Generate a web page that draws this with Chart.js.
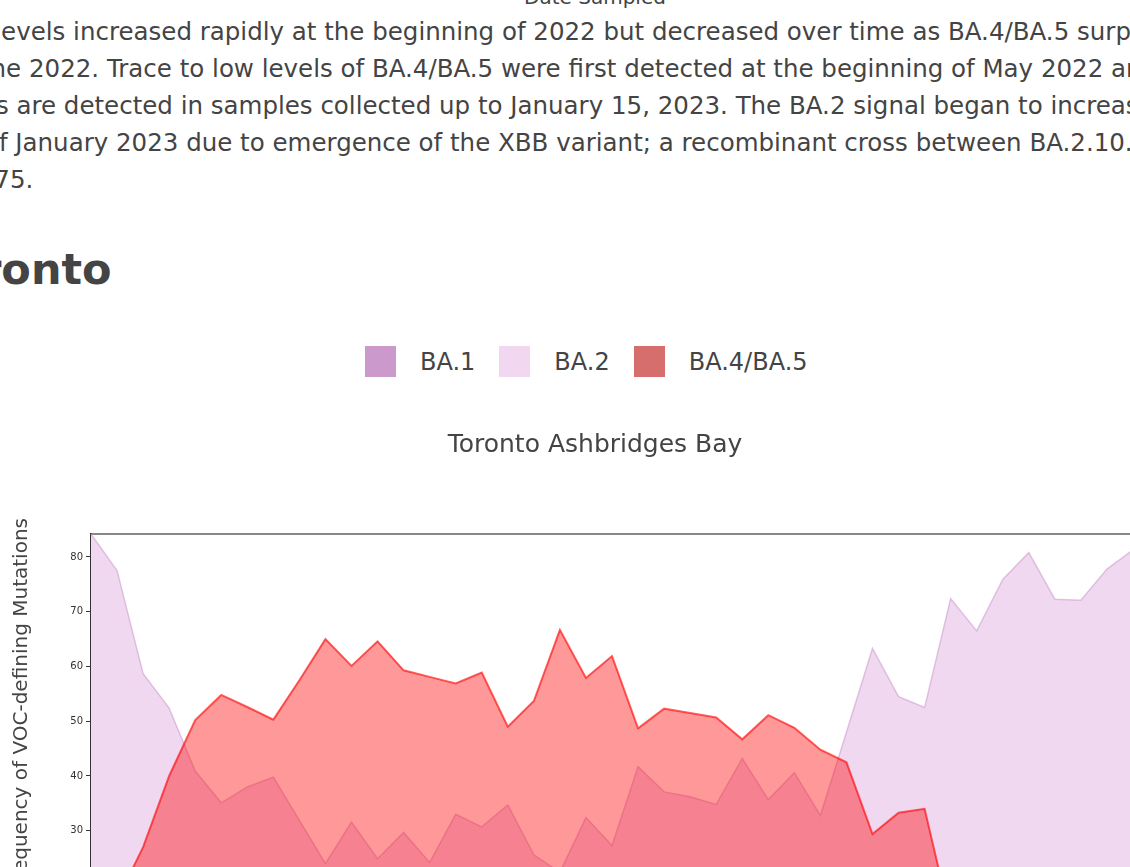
<!DOCTYPE html>
<html>
<head>
<meta charset="utf-8">
<title>Toronto Ashbridges Bay</title>
<script src="https://cdn.jsdelivr.net/npm/chart.js@4.4.0/dist/chart.umd.min.js"></script>
<style>
  html, body {
    margin: 0;
    padding: 0;
    width: 1130px;
    height: 867px;
    overflow: hidden;
    background: #fff;
  }
  body {
    font-family: "DejaVu Sans", sans-serif;
    color: #444;
  }
  /* the page is scrolled a bit to the right, so everything sits 70px left */
  #page {
    position: absolute;
    left: -70px;
    top: 0;
    width: 1330px;
    height: 1100px;
  }
  .prev-axis-title {
    position: absolute;
    left: 465px;
    top: -14px;
    width: 400px;
    text-align: center;
    font-size: 20px;
    line-height: 23px;
    white-space: nowrap;
  }
  .summary {
    position: absolute;
    left: 0;
    top: 12.5px;
    margin: 0;
    font-size: 24.5px;
    line-height: 37px;
    white-space: nowrap;
  }
  h2 {
    position: absolute;
    left: -3px;
    top: 244px;
    margin: 0;
    font-size: 43px;
    line-height: 50px;
    font-weight: bold;
  }
  .legend {
    position: absolute;
    left: 435px;
    top: 346px;
    display: flex;
    align-items: center;
    font-size: 24px;
    white-space: nowrap;
  }
  .legend .box {
    width: 31px;
    height: 31px;
    margin-right: 24px;
  }
  .legend .name {
    margin-right: 24px;
  }
  .y-title {
    position: absolute;
    left: 79px;
    top: 1018px;
    width: 500px;
    text-align: right;
    font-size: 20px;
    line-height: 23px;
    white-space: nowrap;
    transform: rotate(-90deg);
    transform-origin: 0 0;
  }
  #vocChart {
    position: absolute;
    left: 0;
    top: 410px;
  }
</style>
</head>
<body>
<div id="page">
  <div class="prev-axis-title">Date Sampled</div>
  <p class="summary">
    BA.2 levels increased rapidly at the beginning of 2022 but decreased over time as BA.4/BA.5 surpassed BA.2<br>
    by June 2022. Trace to low levels of BA.4/BA.5 were first detected at the beginning of May 2022 and<br>
    copies are detected in samples collected up to January 15, 2023. The BA.2 signal began to increase at the<br>
    end of January 2023 due to emergence of the XBB variant; a recombinant cross between BA.2.10.1 and<br>
    BA.2.75.
  </p>
  <h2>Toronto</h2>
  <div class="legend" id="legend"></div>
  <canvas id="vocChart" width="1330" height="645"></canvas>
  <div class="y-title">Frequency of VOC-defining Mutations</div>
</div>

<script>
// weekly sample dates
const dates = [
  "2022-05-02", "2022-05-09", "2022-05-16", "2022-05-23", "2022-05-30",
  "2022-06-06", "2022-06-13", "2022-06-20", "2022-06-27", "2022-07-04",
  "2022-07-11", "2022-07-18", "2022-07-25", "2022-08-01", "2022-08-08",
  "2022-08-15", "2022-08-22", "2022-08-29", "2022-09-05", "2022-09-12",
  "2022-09-19", "2022-09-26", "2022-10-03", "2022-10-10", "2022-10-17",
  "2022-10-24", "2022-10-31", "2022-11-07", "2022-11-14", "2022-11-21",
  "2022-11-28", "2022-12-05", "2022-12-12", "2022-12-19", "2022-12-26",
  "2023-01-02", "2023-01-09", "2023-01-16", "2023-01-23", "2023-01-30",
  "2023-02-06",
];

const ba1 = [
  9.3, 5.2, 3.1, 2.4, 1.8, 1.2, 0.9, 0.6, 0.5, 0.4,
  0.3, 0.3, 0.2, 0.2, 0.2, 0.1, 0.1, 0.1, 0.1, 0.1,
  0.1, 0.1, 0.1, 0, 0, 0, 0, 0, 0, 0,
  0, 0, 0, 0, 0, 0, 0, 0, 0, 0,
  0,
];

const ba2 = [
  84.2, 77.5, 58.7, 52.4, 40.9, 35.1, 38.0, 39.8, 31.9, 24.0,
  31.6, 24.9, 29.7, 24.2, 33.0, 30.7, 34.7, 25.6, 22.4, 32.4,
  27.3, 41.7, 37.1, 36.2, 34.8, 43.2, 35.7, 40.6, 32.8, 48.0,
  63.3, 54.5, 52.5, 72.4, 66.5, 75.9, 80.8, 72.3, 72.1, 77.8,
  81.3,
];

const ba45 = [
  6.5, 17.3, 27.0, 40.0, 50.2, 54.8, 52.6, 50.3, 57.5, 65.0,
  60.1, 64.6, 59.3, 58.1, 56.9, 58.9, 49.0, 53.7, 66.7, 57.9,
  61.9, 48.7, 52.3, 51.5, 50.7, 46.7, 51.1, 48.8, 44.8, 42.5,
  29.4, 33.3, 34.0, 13.7, 9.8, 7.5, 5.2, 4.1, 3.0, 2.2,
  1.6,
];

const seriesNames = ["BA.1", "BA.2", "BA.4/BA.5"];
const fillColors = ["rgba(204,153,204,0.7)", "#f0d8f0", "rgba(255,0,0,0.4)"];
const lineColors = ["#cc99cc", "rgba(204,153,204,0.55)", "rgba(255,0,0,0.62)"];
const legendColors = ["#cc99cc", "#f1d7f0", "#d66e6e"];

Chart.defaults.font.family = '"DejaVu Sans", sans-serif';
Chart.defaults.color = "#444";

const series = [ba1, ba2, ba45];
const ctx = document.getElementById("vocChart").getContext("2d");

const chart = new Chart(ctx, {
  type: "line",
  data: {
    labels: dates,
    datasets: series.map((values, i) => ({
      label: seriesNames[i],
      data: values,
      fill: "origin",
      backgroundColor: fillColors[i],
      borderColor: lineColors[i],
      borderWidth: i === 2 ? 2 : 1.5,
      pointRadius: 0,
      tension: 0,
      // BA.4/BA.5 sits on top, BA.1 at the back
      order: 3 - i,
    })),
  },
  options: {
    responsive: false,
    animation: false,
    layout: { padding: { left: 127, right: 127, top: 0, bottom: 0 } },
    plugins: {
      legend: { display: false },
      tooltip: { enabled: false },
      title: {
        display: true,
        text: "Toronto Ashbridges Bay",
        color: "#444",
        font: { size: 25, weight: "normal" },
        padding: { top: 20, bottom: 74 },
      },
    },
    scales: {
      x: {
        offset: false,
        grid: { drawOnChartArea: false, tickLength: 5, color: "#333" },
        border: { color: "#333", width: 1.5 },
        ticks: { font: { size: 10 }, color: "#333", maxRotation: 0, padding: 3 },
        title: { display: true, text: "Date Sampled", font: { size: 20 } },
        afterFit: (scale) => {
          scale.height = 60;
        },
      },
      xTop: {
        type: "category",
        position: "top",
        offset: false,
        grid: { display: false, drawTicks: false },
        ticks: { display: false },
        border: { display: true, color: "#888", width: 2 },
      },
      y: {
        min: 0,
        max: 84.2,
        ticks: {
          stepSize: 10,
          includeBounds: false,
          font: { size: 10 },
          color: "#333",
          padding: 3,
        },
        grid: { drawOnChartArea: false, tickLength: 5, color: "#333" },
        border: { color: "#333", width: 1.5 },
        afterFit: (scale) => {
          scale.width = 34;
        },
      },
    },
  },
});

// html legend built from the datasets
const legend = document.getElementById("legend");
chart.data.datasets.forEach((ds, i) => {
  const box = document.createElement("span");
  box.className = "box";
  box.style.background = legendColors[i];
  const name = document.createElement("span");
  name.className = "name";
  name.textContent = ds.label;
  legend.appendChild(box);
  legend.appendChild(name);
});
</script>
</body>
</html>
